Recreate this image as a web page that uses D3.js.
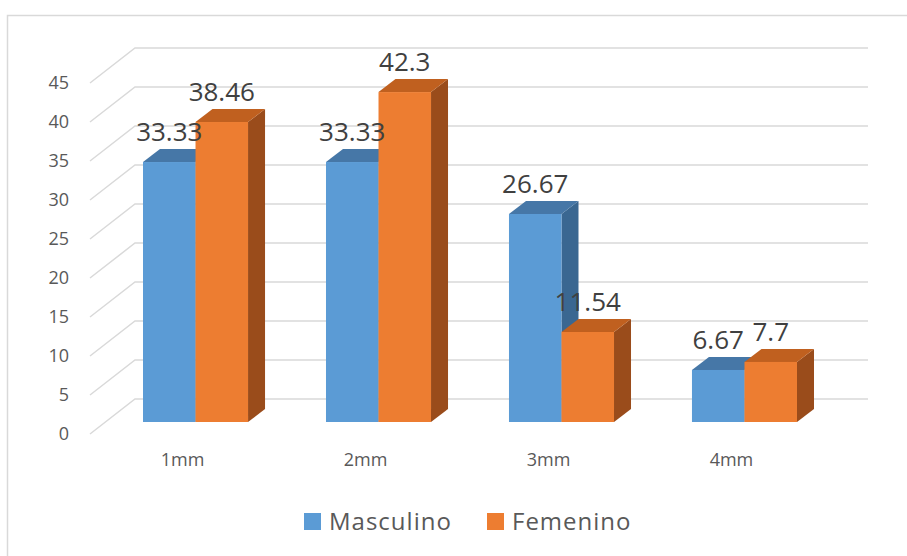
<!DOCTYPE html>
<html>
<head>
<meta charset="utf-8">
<script src="https://cdn.jsdelivr.net/npm/d3@7"></script>
<style>
  body { margin: 0; background: #fff; }
  svg { display: block; font-family: "Open Sans", "Noto Sans", sans-serif; }
</style>
</head>
<body>
<script>
const categories = ['1mm', '2mm', '3mm', '4mm'];
const series = ['Masculino', 'Femenino'];
const masculino = [33.33, 33.33, 26.67, 6.67];
const femenino = [38.46, 42.3, 11.54, 7.7];
const yTicks = [0, 5, 10, 15, 20, 25, 30, 35, 40, 45];

const w = 907, h = 556;
const front = '#5b9bd5', frontO = '#ed7d31';
const colors = {
  Masculino: { face: '#5b9bd5', top: '#4677a7', side: '#3a6791' },
  Femenino: { face: '#ed7d31', top: '#c0601f', side: '#9a4c1b' }
};

// oblique 3d: floor depth and bar depth offsets
const wallDx = 45, wallDy = 35;   // full floor depth
const barDx = 17, barDy = 13;      // bar depth
const wallShift = 23;              // back wall sits 23px above bar front baseline

const svg = d3.select('body').append('svg').attr('width', w).attr('height', h);

// chart frame (cropped at right/bottom)
svg.append('path')
  .attr('d', `M7.5,${h} V15.5 H${w}`)
  .attr('fill', 'none').attr('stroke', '#d9d9d9').attr('stroke-width', 1.5);

const y = d3.scaleLinear().domain([0, 45]).range([422, 422 - 45 * 7.8]);
const yBack = v => y(v) - wallShift;

const x0 = d3.scaleBand().domain(categories).range([143, 797])
  .paddingInner(0.426).paddingOuter(0);
const x1 = d3.scaleBand().domain(series).range([0, x0.bandwidth()]);

// back wall gridlines and side wall diagonals
const grid = svg.append('g').attr('stroke', '#d9d9d9').attr('stroke-width', 1.5).attr('fill', 'none');
grid.selectAll('path').data(yTicks).join('path')
  .attr('d', d => `M868,${yBack(d)} H135 L${135 - wallDx},${yBack(d) + wallDy}`);

// y labels
svg.append('g').selectAll('text').data(yTicks).join('text')
  .attr('x', 69).attr('y', d => yBack(d) + wallDy)
  .attr('dy', '0.36em').attr('text-anchor', 'end')
  .attr('font-size', 18).attr('fill', '#595959')
  .text(d => d);

// bars
const rows = categories.map((c, i) => ({ cat: c, values: [
  { s: 'Masculino', v: masculino[i] },
  { s: 'Femenino', v: femenino[i] }
] }));

const groups = svg.append('g').selectAll('g').data(rows).join('g')
  .attr('transform', d => `translate(${x0(d.cat)},0)`);

const bars = groups.selectAll('g').data(d => d.values).join('g');
bars.each(function(d) {
  const g = d3.select(this);
  const bx = x1(d.s), bw = x1.bandwidth();
  const top = y(d.v), base = y(0);
  const c = colors[d.s];
  g.append('path')
    .attr('d', `M${bx + bw},${top} L${bx + bw + barDx},${top - barDy} V${base - barDy} L${bx + bw},${base} Z`)
    .attr('fill', c.side);
  g.append('path')
    .attr('d', `M${bx},${top} L${bx + barDx},${top - barDy} H${bx + bw + barDx} L${bx + bw},${top} Z`)
    .attr('fill', c.top);
  g.append('rect')
    .attr('x', bx).attr('y', top).attr('width', bw).attr('height', base - top)
    .attr('fill', c.face);
});

// value labels
groups.selectAll('text').data(d => d.values).join('text')
  .attr('x', d => x1(d.s) + x1.bandwidth() / 2)
  .attr('y', d => y(d.v) - barDy - 8)
  .attr('text-anchor', 'middle')
  .attr('font-size', 26).attr('fill', '#404040')
  .text(d => d.v);

// category labels
svg.append('g').selectAll('text').data(categories).join('text')
  .attr('x', d => x0(d) + x0.bandwidth() / 2 - 13)
  .attr('y', 460).attr('dy', '0.36em')
  .attr('text-anchor', 'middle')
  .attr('font-size', 18).attr('fill', '#595959')
  .text(d => d);

// legend
const legendX = [304, 487];
const legend = svg.append('g').selectAll('g').data(series).join('g')
  .attr('transform', (d, i) => `translate(${legendX[i]},513)`);
legend.append('rect').attr('width', 17).attr('height', 17)
  .attr('fill', d => colors[d].face);
legend.append('text')
  .attr('x', 25).attr('y', 17)
  .attr('font-size', 24).attr('letter-spacing', 1).attr('fill', '#595959')
  .text(d => d);
</script>
</body>
</html>
